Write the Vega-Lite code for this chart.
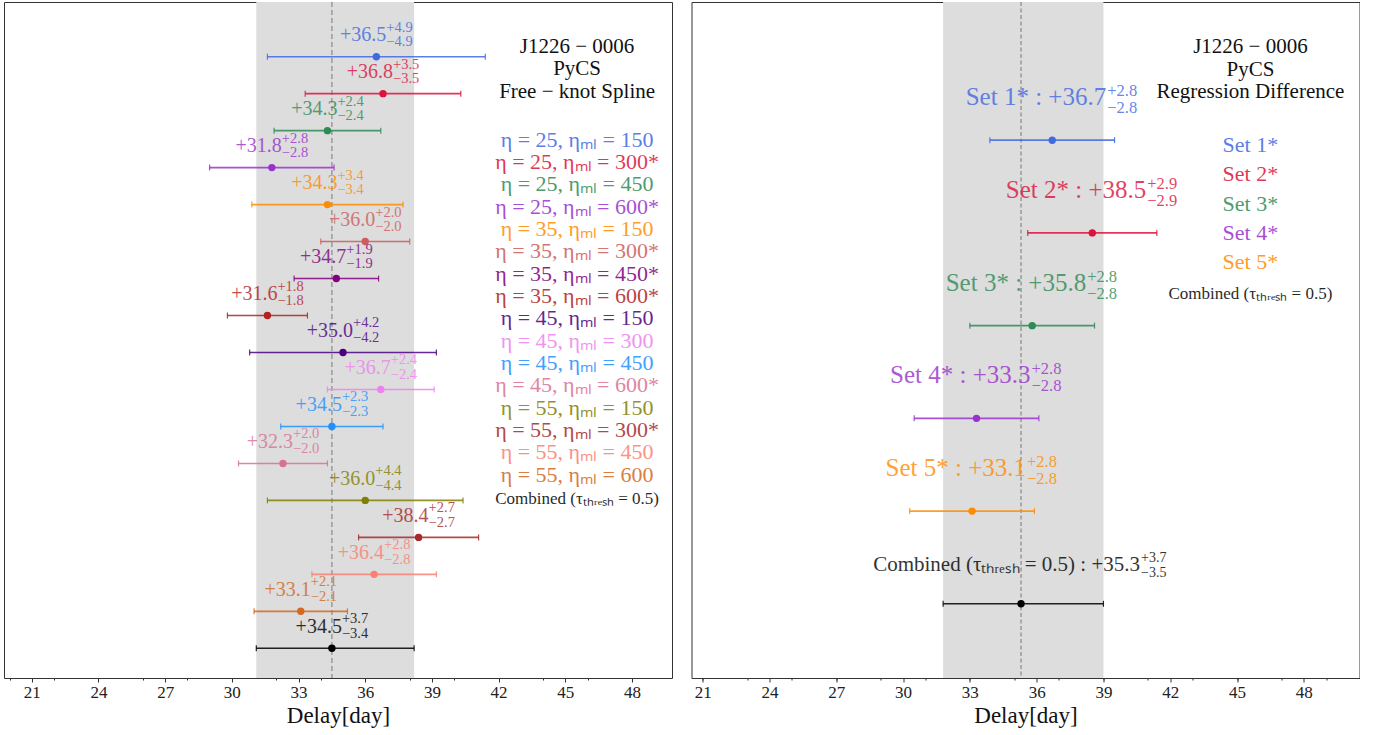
{
  "$schema": "https://vega.github.io/schema/vega-lite/v6.json",
  "background": "white",
  "padding": {"left": 3, "top": 0, "right": 0, "bottom": 0},
  "spacing": 17.5,
  "config": {
    "font": "Liberation Serif",
    "view": {"stroke": "#333333", "strokeWidth": 1},
    "axis": {
      "domain": false, "grid": false, "ticks": true, "tickColor": "#333333", "tickWidth": 1,
      "labelFont": "Liberation Serif", "labelFontSize": 17, "labelColor": "#222222", "labelPadding": 2,
      "titleFont": "Liberation Serif", "titleFontSize": 23, "titleFontWeight": "normal", "titleColor": "#111111", "titlePadding": 4,
      "labelFlush": false, "labelOverlap": false
    }
  },
  "resolve": {"scale": {"color": "independent", "x": "independent", "y": "independent"}},
  "datasets": {
    "left": [
      {"order": 0, "label": "η = 25, ηₘₗ = 150", "v": 36.5, "lo": 31.6, "hi": 41.4, "ep": 4.9, "em": -4.9},
      {"order": 1, "label": "η = 25, ηₘₗ = 300*", "v": 36.8, "lo": 33.3, "hi": 40.3, "ep": 3.5, "em": -3.5},
      {"order": 2, "label": "η = 25, ηₘₗ = 450", "v": 34.3, "lo": 31.9, "hi": 36.7, "ep": 2.4, "em": -2.4},
      {"order": 3, "label": "η = 25, ηₘₗ = 600*", "v": 31.8, "lo": 29.0, "hi": 34.6, "ep": 2.8, "em": -2.8},
      {"order": 4, "label": "η = 35, ηₘₗ = 150", "v": 34.3, "lo": 30.9, "hi": 37.7, "ep": 3.4, "em": -3.4},
      {"order": 5, "label": "η = 35, ηₘₗ = 300*", "v": 36.0, "lo": 34.0, "hi": 38.0, "ep": 2.0, "em": -2.0},
      {"order": 6, "label": "η = 35, ηₘₗ = 450*", "v": 34.7, "lo": 32.8, "hi": 36.6, "ep": 1.9, "em": -1.9},
      {"order": 7, "label": "η = 35, ηₘₗ = 600*", "v": 31.6, "lo": 29.8, "hi": 33.4, "ep": 1.8, "em": -1.8},
      {"order": 8, "label": "η = 45, ηₘₗ = 150", "v": 35.0, "lo": 30.8, "hi": 39.2, "ep": 4.2, "em": -4.2},
      {"order": 9, "label": "η = 45, ηₘₗ = 300", "v": 36.7, "lo": 34.3, "hi": 39.1, "ep": 2.4, "em": -2.4},
      {"order": 10, "label": "η = 45, ηₘₗ = 450", "v": 34.5, "lo": 32.2, "hi": 36.8, "ep": 2.3, "em": -2.3},
      {"order": 11, "label": "η = 45, ηₘₗ = 600*", "v": 32.3, "lo": 30.3, "hi": 34.3, "ep": 2.0, "em": -2.0},
      {"order": 12, "label": "η = 55, ηₘₗ = 150", "v": 36.0, "lo": 31.6, "hi": 40.4, "ep": 4.4, "em": -4.4},
      {"order": 13, "label": "η = 55, ηₘₗ = 300*", "v": 38.4, "lo": 35.7, "hi": 41.1, "ep": 2.7, "em": -2.7},
      {"order": 14, "label": "η = 55, ηₘₗ = 450", "v": 36.4, "lo": 33.6, "hi": 39.2, "ep": 2.8, "em": -2.8},
      {"order": 15, "label": "η = 55, ηₘₗ = 600", "v": 33.1, "lo": 31.0, "hi": 35.2, "ep": 2.1, "em": -2.1},
      {"order": 16, "label": "Combined (τₜₕᵣₑₛₕ = 0.5)", "v": 34.5, "lo": 31.1, "hi": 38.2, "ep": 3.7, "em": -3.4}
    ],
    "right": [
      {"order": 0, "label": "Set 1*", "ann": "Set 1* : +36.7", "v": 36.7, "lo": 33.9, "hi": 39.5, "ep": 2.8, "em": -2.8},
      {"order": 1, "label": "Set 2*", "ann": "Set 2* : +38.5", "v": 38.5, "lo": 35.6, "hi": 41.4, "ep": 2.9, "em": -2.9},
      {"order": 2, "label": "Set 3*", "ann": "Set 3* : +35.8", "v": 35.8, "lo": 33.0, "hi": 38.6, "ep": 2.8, "em": -2.8},
      {"order": 3, "label": "Set 4*", "ann": "Set 4* : +33.3", "v": 33.3, "lo": 30.5, "hi": 36.1, "ep": 2.8, "em": -2.8},
      {"order": 4, "label": "Set 5*", "ann": "Set 5* : +33.1", "v": 33.1, "lo": 30.3, "hi": 35.9, "ep": 2.8, "em": -2.8},
      {"order": 5, "label": "Combined (τₜₕᵣₑₛₕ = 0.5)", "ann": "Combined (τₜₕᵣₑₛₕ = 0.5) : +35.3", "v": 35.3, "lo": 31.8, "hi": 39.0, "ep": 3.7, "em": -3.5}
    ]
  },
  "hconcat": [
    {
      "width": 668, "height": 676,
      "data": {"name": "left"},
      "resolve": {"scale": {"y": "independent"}, "axis": {"x": "independent"}},
      "layer": [
        {
          "layer": [
            {
              "transform": [{"filter": "datum.order == 16"}],
              "mark": {"type": "rect", "color": "#dddddd"},
              "encoding": {
                "x": {"field": "lo", "type": "quantitative", "scale": {"domain": [19.75, 49.8], "nice": false, "zero": false},
                  "axis": {"title": "Delay[day]", "orient": "bottom", "values": [21,24,27,30,33,36,39,42,45,48],
                    "labelOverlap": false, "labelFlush": false, "labelFontSize": 17, "labelFont": "Liberation Serif", "labelPadding": 2,
                    "titleFontSize": 23, "titleFont": "Liberation Serif", "titleFontWeight": "normal", "titlePadding": 4, "grid": false, "domain": false,
                    "tickSize": 4}},
                "x2": {"field": "hi"}
              }
            },
            {
              "transform": [{"filter": "datum.order == 16"}],
              "mark": {"type": "rule", "color": "#9a9a9a", "strokeDash": [5, 3], "strokeWidth": 1.5},
              "encoding": {"x": {"field": "v", "type": "quantitative"}}
            },
            {
              "mark": {"type": "rule", "strokeWidth": 1.6, "opacity": 0.85},
              "encoding": {
                "x": {"field": "lo", "type": "quantitative"},
                "x2": {"field": "hi"},
                "y": {"field": "order", "type": "quantitative", "scale": {"domain": [-1.479, 16.803], "reverse": true, "nice": false, "zero": false}, "axis": null},
                "color": {"field": "label", "type": "nominal", "legend": null,
                  "scale": {"domain": ["η = 25, ηₘₗ = 150","η = 25, ηₘₗ = 300*","η = 25, ηₘₗ = 450","η = 25, ηₘₗ = 600*","η = 35, ηₘₗ = 150","η = 35, ηₘₗ = 300*","η = 35, ηₘₗ = 450*","η = 35, ηₘₗ = 600*","η = 45, ηₘₗ = 150","η = 45, ηₘₗ = 300","η = 45, ηₘₗ = 450","η = 45, ηₘₗ = 600*","η = 55, ηₘₗ = 150","η = 55, ηₘₗ = 300*","η = 55, ηₘₗ = 450","η = 55, ηₘₗ = 600","Combined (τₜₕᵣₑₛₕ = 0.5)"],
                    "range": ["#4169e1","#dc143c","#2e8b57","#9932cc","#ff8c00","#cd5c5c","#800080","#b22222","#4b0082","#ee82ee","#1e90ff","#db7093","#808000","#a52a2a","#fa8072","#d2691e","#000000"]}}
              }
            },
            {
              "mark": {"type": "tick", "orient": "vertical", "size": 6, "thickness": 1.2, "opacity": 0.85},
              "encoding": {
                "x": {"field": "lo", "type": "quantitative"},
                "y": {"field": "order", "type": "quantitative", "axis": null},
                "color": {"field": "label", "type": "nominal", "legend": null}
              }
            },
            {
              "mark": {"type": "tick", "orient": "vertical", "size": 6, "thickness": 1.2, "opacity": 0.85},
              "encoding": {
                "x": {"field": "hi", "type": "quantitative"},
                "y": {"field": "order", "type": "quantitative", "axis": null},
                "color": {"field": "label", "type": "nominal", "legend": null}
              }
            },
            {
              "mark": {"type": "circle", "size": 55, "opacity": 1},
              "encoding": {
                "x": {"field": "v", "type": "quantitative"},
                "y": {"field": "order", "type": "quantitative", "axis": null},
                "color": {"field": "label", "type": "nominal", "legend": null}
              }
            },
            {
              "mark": {"type": "text", "align": "right", "baseline": "alphabetic", "dx": 10, "dy": -15.5, "fontSize": 20, "opacity": 0.8},
              "encoding": {
                "x": {"field": "v", "type": "quantitative"},
                "y": {"field": "order", "type": "quantitative", "axis": null},
                "text": {"field": "v", "type": "quantitative", "format": "+.1f"},
                "color": {"field": "label", "type": "nominal", "legend": null}
              }
            },
            {
              "mark": {"type": "text", "align": "left", "baseline": "alphabetic", "dx": 10, "dy": -25, "fontSize": 14.5, "opacity": 0.8},
              "encoding": {
                "x": {"field": "v", "type": "quantitative"},
                "y": {"field": "order", "type": "quantitative", "axis": null},
                "text": {"field": "ep", "type": "quantitative", "format": "+.1f"},
                "color": {"field": "label", "type": "nominal", "legend": null}
              }
            },
            {
              "mark": {"type": "text", "align": "left", "baseline": "alphabetic", "dx": 10, "dy": -10.4, "fontSize": 14.5, "opacity": 0.8},
              "encoding": {
                "x": {"field": "v", "type": "quantitative"},
                "y": {"field": "order", "type": "quantitative", "axis": null},
                "text": {"field": "em", "type": "quantitative", "format": ".1f"},
                "color": {"field": "label", "type": "nominal", "legend": null}
              }
            }
          ]
        },
        {
          "layer": [
            {
              "mark": {"type": "text", "align": "center", "baseline": "alphabetic", "opacity": 0.85},
              "encoding": {
                "x": {"datum": 45.53, "type": "quantitative"},
                "y": {"field": "order", "type": "quantitative", "scale": {"domain": [-6.48, 23.79], "reverse": true, "nice": false, "zero": false}, "axis": null},
                "text": {"field": "label", "type": "nominal"},
                "size": {"condition": {"test": "datum.order == 16", "value": 17}, "value": 22},
                "color": {"field": "label", "type": "nominal", "legend": null}
              }
            },
            {
              "data": {"values": [{}]},
              "mark": {"type": "text", "align": "center", "baseline": "alphabetic", "fontSize": 21, "lineHeight": 22.5, "color": "#111111",
                "text": ["J1226 − 0006", "PyCS", "Free − knot Spline"]},
              "encoding": {
                "x": {"datum": 45.53, "type": "quantitative",
                  "axis": {"orient": "bottom", "title": null, "labels": false, "values": [20,21,22,23,24,25,26,27,28,29,30,31,32,33,34,35,36,37,38,39,40,41,42,43,44,45,46,47,48,49],
                    "tickSize": 2, "grid": false, "domain": false}},
                "y": {"datum": -4.2, "type": "quantitative", "scale": {"domain": [-6.48, 23.79], "reverse": true, "nice": false, "zero": false}, "axis": null}
              }
            }
          ]
        }
      ]
    },
    {
      "width": 668, "height": 676,
      "data": {"name": "right"},
      "resolve": {"scale": {"y": "independent"}, "axis": {"x": "independent"}},
      "layer": [
        {
          "layer": [
            {
              "transform": [{"filter": "datum.order == 5"}],
              "mark": {"type": "rect", "color": "#dddddd"},
              "encoding": {
                "x": {"field": "lo", "type": "quantitative", "scale": {"domain": [20.5, 50.5], "nice": false, "zero": false},
                  "axis": {"title": "Delay[day]", "orient": "bottom", "values": [21,24,27,30,33,36,39,42,45,48],
                    "labelOverlap": false, "labelFlush": false, "labelFontSize": 17, "labelFont": "Liberation Serif", "labelPadding": 2,
                    "titleFontSize": 23, "titleFont": "Liberation Serif", "titleFontWeight": "normal", "titlePadding": 4, "grid": false, "domain": false,
                    "tickSize": 4}},
                "x2": {"field": "hi"}
              }
            },
            {
              "transform": [{"filter": "datum.order == 5"}],
              "mark": {"type": "rule", "color": "#777777", "strokeDash": [4, 2.5], "strokeWidth": 1},
              "encoding": {"x": {"field": "v", "type": "quantitative"}}
            },
            {
              "mark": {"type": "rule", "strokeWidth": 1.6, "opacity": 0.85},
              "encoding": {
                "x": {"field": "lo", "type": "quantitative"},
                "x2": {"field": "hi"},
                "y": {"field": "order", "type": "quantitative", "scale": {"domain": [-1.49, 5.8], "reverse": true, "nice": false, "zero": false}, "axis": null},
                "color": {"field": "label", "type": "nominal", "legend": null,
                  "scale": {"domain": ["Set 1*","Set 2*","Set 3*","Set 4*","Set 5*","Combined (τₜₕᵣₑₛₕ = 0.5)"],
                    "range": ["#4169e1","#dc143c","#2e8b57","#9932cc","#ff8c00","#000000"]}}
              }
            },
            {
              "mark": {"type": "tick", "orient": "vertical", "size": 6, "thickness": 1.2, "opacity": 0.85},
              "encoding": {
                "x": {"field": "lo", "type": "quantitative"},
                "y": {"field": "order", "type": "quantitative", "axis": null},
                "color": {"field": "label", "type": "nominal", "legend": null}
              }
            },
            {
              "mark": {"type": "tick", "orient": "vertical", "size": 6, "thickness": 1.2, "opacity": 0.85},
              "encoding": {
                "x": {"field": "hi", "type": "quantitative"},
                "y": {"field": "order", "type": "quantitative", "axis": null},
                "color": {"field": "label", "type": "nominal", "legend": null}
              }
            },
            {
              "mark": {"type": "circle", "size": 55, "opacity": 1},
              "encoding": {
                "x": {"field": "v", "type": "quantitative"},
                "y": {"field": "order", "type": "quantitative", "axis": null},
                "color": {"field": "label", "type": "nominal", "legend": null}
              }
            },
            {
              "transform": [{"filter": "datum.order < 5"}],
              "mark": {"type": "text", "align": "right", "baseline": "alphabetic", "dx": 54, "dy": -35, "fontSize": 25, "opacity": 0.8},
              "encoding": {
                "x": {"field": "v", "type": "quantitative"},
                "y": {"field": "order", "type": "quantitative", "axis": null},
                "text": {"field": "ann", "type": "nominal"},
                "color": {"field": "label", "type": "nominal", "legend": null}
              }
            },
            {
              "transform": [{"filter": "datum.order < 5"}],
              "mark": {"type": "text", "align": "left", "baseline": "alphabetic", "dx": 55, "dy": -44, "fontSize": 16.5, "opacity": 0.8},
              "encoding": {
                "x": {"field": "v", "type": "quantitative"},
                "y": {"field": "order", "type": "quantitative", "axis": null},
                "text": {"field": "ep", "type": "quantitative", "format": "+.1f"},
                "color": {"field": "label", "type": "nominal", "legend": null}
              }
            },
            {
              "transform": [{"filter": "datum.order < 5"}],
              "mark": {"type": "text", "align": "left", "baseline": "alphabetic", "dx": 55, "dy": -27, "fontSize": 16.5, "opacity": 0.8},
              "encoding": {
                "x": {"field": "v", "type": "quantitative"},
                "y": {"field": "order", "type": "quantitative", "axis": null},
                "text": {"field": "em", "type": "quantitative", "format": ".1f"},
                "color": {"field": "label", "type": "nominal", "legend": null}
              }
            },
            {
              "transform": [{"filter": "datum.order == 5"}],
              "mark": {"type": "text", "align": "right", "baseline": "alphabetic", "dx": 119, "dy": -33, "fontSize": 21, "opacity": 0.8},
              "encoding": {
                "x": {"field": "v", "type": "quantitative"},
                "y": {"field": "order", "type": "quantitative", "axis": null},
                "text": {"field": "ann", "type": "nominal"},
                "color": {"field": "label", "type": "nominal", "legend": null}
              }
            },
            {
              "transform": [{"filter": "datum.order == 5"}],
              "mark": {"type": "text", "align": "left", "baseline": "alphabetic", "dx": 120, "dy": -41.5, "fontSize": 14, "opacity": 0.8},
              "encoding": {
                "x": {"field": "v", "type": "quantitative"},
                "y": {"field": "order", "type": "quantitative", "axis": null},
                "text": {"field": "ep", "type": "quantitative", "format": "+.1f"},
                "color": {"field": "label", "type": "nominal", "legend": null}
              }
            },
            {
              "transform": [{"filter": "datum.order == 5"}],
              "mark": {"type": "text", "align": "left", "baseline": "alphabetic", "dx": 120, "dy": -27, "fontSize": 14, "opacity": 0.8},
              "encoding": {
                "x": {"field": "v", "type": "quantitative"},
                "y": {"field": "order", "type": "quantitative", "axis": null},
                "text": {"field": "em", "type": "quantitative", "format": ".1f"},
                "color": {"field": "label", "type": "nominal", "legend": null}
              }
            }
          ]
        },
        {
          "layer": [
            {
              "mark": {"type": "text", "align": "center", "baseline": "alphabetic", "opacity": 0.85},
              "encoding": {
                "x": {"datum": 45.6, "type": "quantitative"},
                "y": {"field": "order", "type": "quantitative", "scale": {"domain": [-5.092, 17.901], "reverse": true, "nice": false, "zero": false}, "axis": null},
                "text": {"field": "label", "type": "nominal"},
                "size": {"condition": {"test": "datum.order == 5", "value": 17}, "value": 22},
                "color": {"field": "label", "type": "nominal", "legend": null}
              }
            },
            {
              "data": {"values": [{}]},
              "mark": {"type": "text", "align": "center", "baseline": "alphabetic", "fontSize": 21, "lineHeight": 22.5, "color": "#111111",
                "text": ["J1226 − 0006", "PyCS", "Regression Difference"]},
              "encoding": {
                "x": {"datum": 45.6, "type": "quantitative",
                  "axis": {"orient": "bottom", "title": null, "labels": false, "values": [21,22,23,24,25,26,27,28,29,30,31,32,33,34,35,36,37,38,39,40,41,42,43,44,45,46,47,48,49,50],
                    "tickSize": 2, "grid": false, "domain": false}},
                "y": {"datum": -3.357, "type": "quantitative", "scale": {"domain": [-5.092, 17.901], "reverse": true, "nice": false, "zero": false}, "axis": null}
              }
            }
          ]
        }
      ]
    }
  ]
}
